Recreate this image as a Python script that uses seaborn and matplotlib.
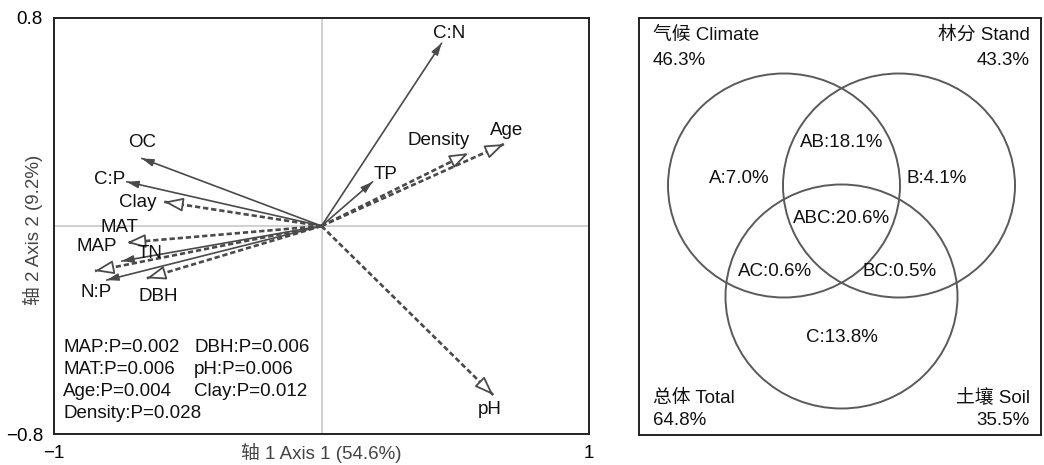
import numpy as np
import pandas as pd
import matplotlib
matplotlib.use("Agg")
import matplotlib.pyplot as plt
import seaborn as sns
from matplotlib.patches import Ellipse

# ---------------- data ----------------
env_vars = ["C:N", "TP", "Age", "Density", "pH", "OC", "C:P", "Clay",
            "MAP", "TN", "MAT", "N:P", "DBH"]
axis1 = [0.449, 0.191, 0.682, 0.549, 0.642, -0.672, -0.728, -0.588,
         -0.728, -0.747, -0.847, -0.803, -0.653]
axis2 = [0.703, 0.170, 0.315, 0.280, -0.650, 0.260, 0.170, 0.093,
         -0.064, -0.135, -0.173, -0.208, -0.201]
significant = [False, False, True, True, True, False, False, True,
               True, False, True, False, True]
p_left = ["MAP:P=0.002", "MAT:P=0.006", "Age:P=0.004", "Density:P=0.028"]
p_right = ["DBH:P=0.006", "pH:P=0.006", "Clay:P=0.012"]
x_label = "轴 1 Axis 1 (54.6%)"
y_label = "轴 2 Axis 2 (9.2%)"
x_ticks = [-1, 1]
y_ticks = [-0.8, 0.8]

venn_sets = ["气候 Climate", "林分 Stand", "土壤 Soil"]
venn_set_pct = ["46.3%", "43.3%", "35.5%"]
total_label = "总体 Total"
total_pct = "64.8%"
region_names = ["A", "B", "C", "AB", "AC", "BC", "ABC"]
region_pct = [7.0, 4.1, 13.8, 18.1, 0.6, 0.5, 20.6]

df = pd.DataFrame({"var": env_vars, "x": axis1, "y": axis2, "sig": significant})

# ---------------- style ----------------
sns.set_theme(style="white")
plt.rcParams["font.family"] = ["Liberation Sans", "Noto Sans CJK SC", "DejaVu Sans"]
FS = 13.5

W, H = 1044, 465
fig = plt.figure(figsize=(W / 100, H / 100), dpi=100)
fig.patch.set_facecolor("white")

# ---------------- left: RDA biplot ----------------
ax = fig.add_axes([54 / W, (H - 434) / H, 535 / W, 416 / H])
ax.set_xlim(-1, 1)
ax.set_ylim(-0.8, 0.8)
ax.axvline(0, color="#c8c8c8", lw=1.2, zorder=1)
ax.axhline(0, color="#c8c8c8", lw=1.2, zorder=1)
ax.set_xticks(x_ticks)
ax.set_xticklabels(["\u22121", "1"])
ax.set_yticks(y_ticks)
ax.set_yticklabels(["\u22120.8", "0.8"])
ax.tick_params(length=0, labelsize=FS, colors="black", pad=8)
for s in ax.spines.values():
    s.set_color("#222222")
    s.set_linewidth(1.4)

fig.canvas.draw()

label_offsets = {  # display pixel offsets of labels from arrow tips
    "C:N": (8, 10), "TP": (13, 7), "Age": (3, 14), "Density": (-30, 13),
    "pH": (-4, -14), "OC": (0, 16), "C:P": (-17, 2), "Clay": (-26, -1),
    "MAP": (-30, -4), "TN": (28, 8), "MAT": (25, 43), "N:P": (-11, -12),
    "DBH": (11, -18),
}

dark = "#4a4a4a"
for _, r in df.iterrows():
    ls = (0, (2.0, 1.1)) if r.sig else "-"
    lw = 1.9 if r.sig else 1.2
    sns.lineplot(x=[0, r.x], y=[0, r.y], ax=ax, color=dark, lw=lw,
                 linestyle=ls, sort=False, estimator=None, zorder=3)
    p0 = ax.transData.transform((0, 0))
    p1 = ax.transData.transform((r.x, r.y))
    d = (p1 - p0) / np.linalg.norm(p1 - p0)
    if r.sig:
        L = 12
        style = "-|>,head_length=1.15,head_width=0.42"
        fc = "white"
        ms = 10
        alw = 1.3
    else:
        L = 8
        style = "-|>,head_length=0.9,head_width=0.28"
        fc = dark
        ms = 8
        alw = 1.0
    ax.annotate("", xy=(r.x, r.y), xytext=(-d[0] * L, -d[1] * L),
                textcoords="offset pixels",
                arrowprops=dict(arrowstyle=style, fc=fc, ec=dark, lw=alw,
                                shrinkA=0, shrinkB=0, mutation_scale=ms),
                zorder=5)
    ox, oy = label_offsets[r["var"]]
    ax.annotate(r["var"], xy=(r.x, r.y), xytext=(ox, oy),
                textcoords="offset pixels", ha="center", va="center",
                fontsize=FS, color="#111111", zorder=6)

row_y = [0.209, 0.156, 0.103, 0.050]
for i, t in enumerate(p_left):
    ax.text(0.017, row_y[i], t, transform=ax.transAxes, fontsize=FS,
            ha="left", va="center", color="#111111")
for i, t in enumerate(p_right):
    ax.text(0.262, row_y[i], t, transform=ax.transAxes, fontsize=FS,
            ha="left", va="center", color="#111111")

ax.text(0.5, -0.045, x_label, transform=ax.transAxes, fontsize=FS,
        ha="center", va="center", color="#444444")
ax.text(-0.039, 0.49, y_label, transform=ax.transAxes, fontsize=FS,
        ha="center", va="center", rotation=90, color="#444444")

# ---------------- right: Venn diagram ----------------
bx = fig.add_axes([639 / W, (H - 435) / H, 402 / W, 417 / H])
bx.set_xlim(0, 402)
bx.set_ylim(417, 0)
bx.set_xticks([])
bx.set_yticks([])
for s in bx.spines.values():
    s.set_color("#222222")
    s.set_linewidth(1.4)

circle_centers = [(145, 167.5), (260, 167.5), (202.5, 278.5)]
for cx, cy in circle_centers:
    bx.add_patch(Ellipse((cx, cy), 232, 224, fill=False, ec="#5a5a5a", lw=1.4))

region_pos = {"A": (100, 160), "B": (298, 160), "C": (203, 319),
              "AB": (203, 124), "AC": (136, 253), "BC": (261, 253),
              "ABC": (203, 200)}
for name, pct in zip(region_names, region_pct):
    px, py = region_pos[name]
    bx.text(px, py, f"{name}:{pct:.1f}%", ha="center", va="center",
            fontsize=FS, color="#111111")

bx.text(14, 17, venn_sets[0], ha="left", va="center", fontsize=FS, color="#111111")
bx.text(14, 42, venn_set_pct[0], ha="left", va="center", fontsize=FS, color="#111111")
bx.text(391, 17, venn_sets[1], ha="right", va="center", fontsize=FS, color="#111111")
bx.text(391, 42, venn_set_pct[1], ha="right", va="center", fontsize=FS, color="#111111")
bx.text(14, 380, total_label, ha="left", va="center", fontsize=FS, color="#111111")
bx.text(14, 402, total_pct, ha="left", va="center", fontsize=FS, color="#111111")
bx.text(391, 380, venn_sets[2], ha="right", va="center", fontsize=FS, color="#111111")
bx.text(391, 402, venn_set_pct[2], ha="right", va="center", fontsize=FS, color="#111111")

fig.savefig("out.png", dpi=100, facecolor="white")
